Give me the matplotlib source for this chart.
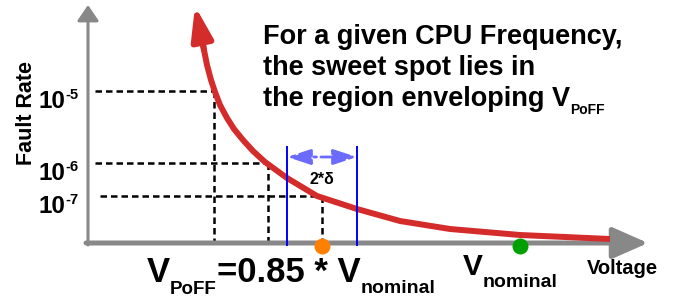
import matplotlib.pyplot as plt

plt.rcParams['font.family'] = ['Liberation Sans', 'DejaVu Sans']
plt.rcParams['font.weight'] = 'bold'

# schematic coordinates (pixel-like units of the sketch)
curve_v = [201, 204, 207, 211, 215, 220, 227, 234, 243, 253, 265, 287, 317, 357, 400, 450, 520, 610]
curve_f = [33, 50, 65, 80, 92, 105, 118, 129, 140, 151, 162, 178, 196, 209, 221, 229, 235, 239]
curve_tip = (195, 6)

fault_exp = ['-5', '-6', '-7']
fault_y = [91, 163, 196]
fault_v = [214, 268, 322]
dash_start = [95, 95, 100]

band_v = [287, 357]
v_poff = 322
v_nominal = 520

title_lines = ['For a given CPU Frequency,', 'the sweet spot lies in',
               'the region enveloping V']

red = '#d42b2b'
gray = '#888888'


def main():
	fig = plt.figure(figsize=(6.86, 2.99), dpi=100)
	ax = fig.add_axes([0, 0, 1, 1])
	ax.set_xlim(0, 686)
	ax.set_ylim(299, 0)
	ax.axis('off')

	# axes arrows
	ax.annotate('', xy=(648, 243), xytext=(86, 243),
				arrowprops=dict(arrowstyle='-|>,head_length=2.2,head_width=0.97', color=gray,
								lw=3.6, mutation_scale=10, shrinkA=0, shrinkB=0))
	ax.annotate('', xy=(88, 5), xytext=(88, 245),
				arrowprops=dict(arrowstyle='-|>,head_length=0.95,head_width=0.65', color=gray,
								lw=2.2, mutation_scale=10, shrinkA=0, shrinkB=0))

	# dashed guides
	dash = (0, (2.6, 1.6))
	for x0, v, y in zip(dash_start, fault_v, fault_y):
		ax.plot([x0, v], [y, y], color='black', lw=1.8, ls=dash)
		ax.plot([v, v], [y, 246], color='black', lw=1.8, ls=dash)

	# fault curve
	ax.plot(curve_v, curve_f, color=red, lw=4.3, solid_capstyle='butt',
			solid_joinstyle='round', zorder=3)
	ax.annotate('', xy=curve_tip, xytext=(curve_v[1], curve_f[1]),
				arrowprops=dict(arrowstyle='-|>,head_length=2.0,head_width=0.65', color=red,
								lw=4.3, mutation_scale=10, shrinkA=0, shrinkB=0), zorder=3)

	# 2*delta band
	ax.vlines(band_v, 146, 246, color='#0000ff', lw=1.4, zorder=4)
	ax.annotate('', xy=(band_v[1], 157), xytext=(band_v[0], 157),
				arrowprops=dict(arrowstyle='<|-|>,head_length=1.44,head_width=0.47', color='#6b6bff',
								lw=2, ls='-.', mutation_scale=10, shrinkA=0, shrinkB=0))
	ax.text((band_v[0] + band_v[1]) / 2, 184, '2*δ', ha='center', va='baseline',
			fontsize=11.5, weight='bold')

	ax.scatter([v_poff], [246], s=132, color='#ff8000', zorder=5, linewidths=0)
	ax.scatter([v_nominal], [246], s=132, color='#00a000', zorder=5, linewidths=0)

	# y tick labels
	for e, y in zip(fault_exp, fault_y):
		t = ax.text(38, y + 17, '10', fontsize=17.5, va='baseline', weight='bold')
		ax.annotate(e, xy=(1, y + 8), xycoords=(t, 'data'), fontsize=10.5, va='baseline',
					weight='bold')

	ax.text(32, 113, 'Fault Rate', rotation=90, rotation_mode='anchor',
			ha='center', va='baseline', fontsize=15.5, weight='bold')
	ax.text(587, 274, 'Voltage', fontsize=14.5, va='baseline', weight='bold')

	# bottom labels
	t = ax.text(147, 282, 'V', fontsize=25, va='baseline', weight='bold')
	t = ax.annotate('PoFF', xy=(1, 294), xycoords=(t, 'data'), fontsize=13.5, va='baseline',
					weight='bold')
	t = ax.annotate('=0.85 * V', xy=(1, 282), xycoords=(t, 'data'), fontsize=25, va='baseline',
					weight='bold')
	ax.annotate('nominal', xy=(1, 293), xycoords=(t, 'data'), fontsize=14, va='baseline',
				weight='bold')

	t = ax.text(463, 275, 'V', fontsize=21.5, va='baseline', weight='bold')
	ax.annotate('nominal', xy=(1, 287), xycoords=(t, 'data'), fontsize=14, va='baseline',
				weight='bold')

	# title text
	for i, line in enumerate(title_lines):
		t = ax.text(263, 44 + 31 * i, line, fontsize=19.5, va='baseline', weight='bold')
	ax.annotate('PoFF', xy=(1, 114), xycoords=(t, 'data'), fontsize=10, va='baseline',
				weight='bold')

	fig.savefig('out.png', dpi=100)


if __name__ == '__main__':
	main()
